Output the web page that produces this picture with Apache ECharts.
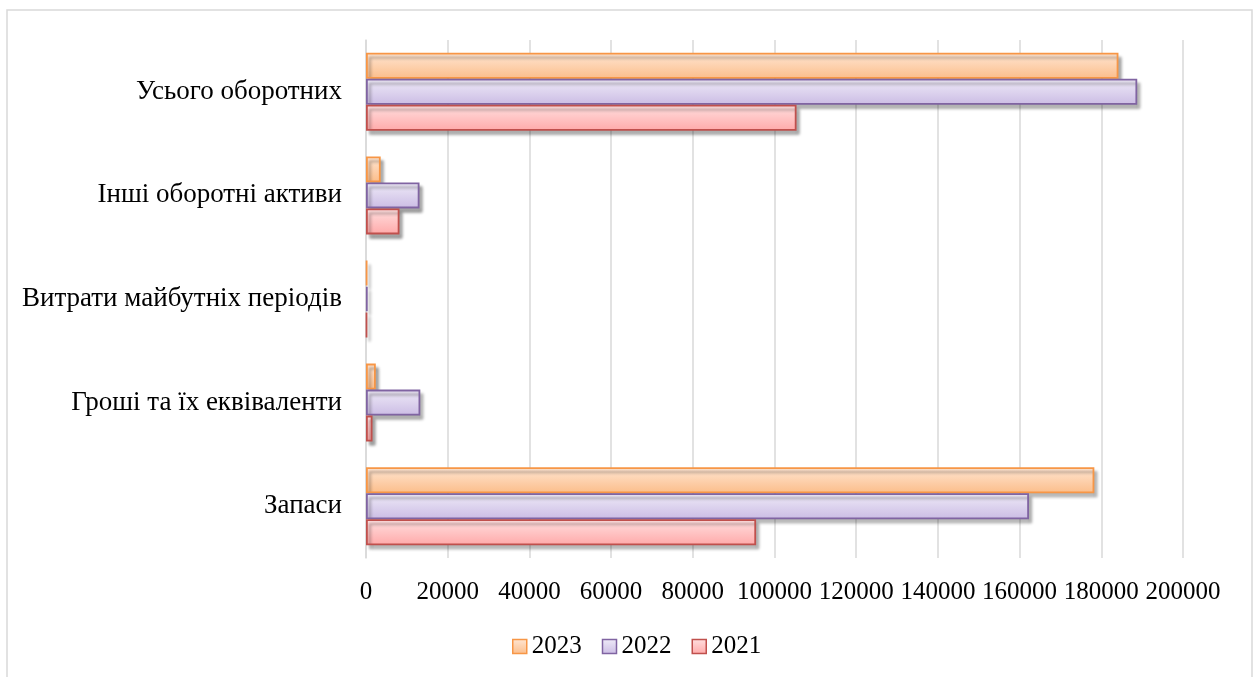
<!DOCTYPE html>
<html><head><meta charset="utf-8">
<script src="https://cdn.jsdelivr.net/npm/echarts@6/dist/echarts.min.js"></script>
<style>html,body{margin:0;padding:0;background:#fff}#c{width:1258px;height:677px}</style>
</head><body><div id="c"></div>
<script>
const categories = ['Запаси', 'Гроші та їх еквіваленти', 'Витрати майбутніх періодів', 'Інші оборотні активи', 'Усього оборотних'];
const values2021 = [95500, 1600, 250, 8200, 105400];
const values2022 = [162300, 13300, 400, 13100, 188800];
const values2023 = [178300, 2400, 300, 3600, 184200];
const legendNames = ['2023', '2022', '2021'];

const font = '"Liberation Serif", "Times New Roman", serif';
function grad(a, b) {
  return new echarts.graphic.LinearGradient(0, 0, 0, 1, [{offset: 0, color: a}, {offset: 1, color: b}]);
}
function mk(name, data, c1, c2, border) {
  return {
    name, type: 'bar', data, barWidth: 26, barGap: '0%',
    itemStyle: {
      color: grad(c1, c2), borderColor: border, borderWidth: 1.8,
      shadowColor: 'rgba(0,0,0,0.33)', shadowBlur: 3, shadowOffsetX: 3, shadowOffsetY: 4
    },
    emphasis: {disabled: true}
  };
}
const chart = echarts.init(document.getElementById('c'), null, {renderer: 'canvas'});
chart.setOption({
  animation: false,
  backgroundColor: '#fff',
  graphic: [{
    type: 'rect', shape: {x: 7, y: 10, width: 1245, height: 690},
    style: {fill: 'none', stroke: '#d9d9d9', lineWidth: 1.5}, silent: true, z: -1
  }],
  grid: {left: 366, right: 75, top: 40, bottom: 119},
  legend: {
    data: legendNames, left: 507, top: 629, itemWidth: 14, itemHeight: 14, itemGap: 20,
    icon: 'rect',
    textStyle: {fontFamily: font, fontSize: 25, color: '#000'},
    itemStyle: {borderWidth: 1.5, shadowBlur: 0, shadowOffsetX: 0, shadowOffsetY: 0}
  },
  xAxis: {
    type: 'value', min: 0, max: 200000, interval: 20000,
    axisLine: {show: false}, axisTick: {show: false},
    axisLabel: {fontFamily: font, fontSize: 25, color: '#000', margin: 22, hideOverlap: false,
      formatter: v => String(v)},
    splitLine: {lineStyle: {color: '#d9d9d9', width: 1.5}}
  },
  yAxis: {
    type: 'category', data: categories,
    axisLine: {lineStyle: {color: '#d9d9d9', width: 1.5}}, axisTick: {show: false},
    axisLabel: {fontFamily: font, fontSize: 27, color: '#000', margin: 24, padding: [8, 0, 0, 0]}
  },
  series: [
    mk('2023', values2023, '#ffe6d3', '#fbbd8a', '#f79646'),
    mk('2022', values2022, '#efebf8', '#cbbce4', '#8064a2'),
    mk('2021', values2021, '#ffe0e0', '#ffa9a9', '#c0504d')
  ]
});
</script></body></html>
